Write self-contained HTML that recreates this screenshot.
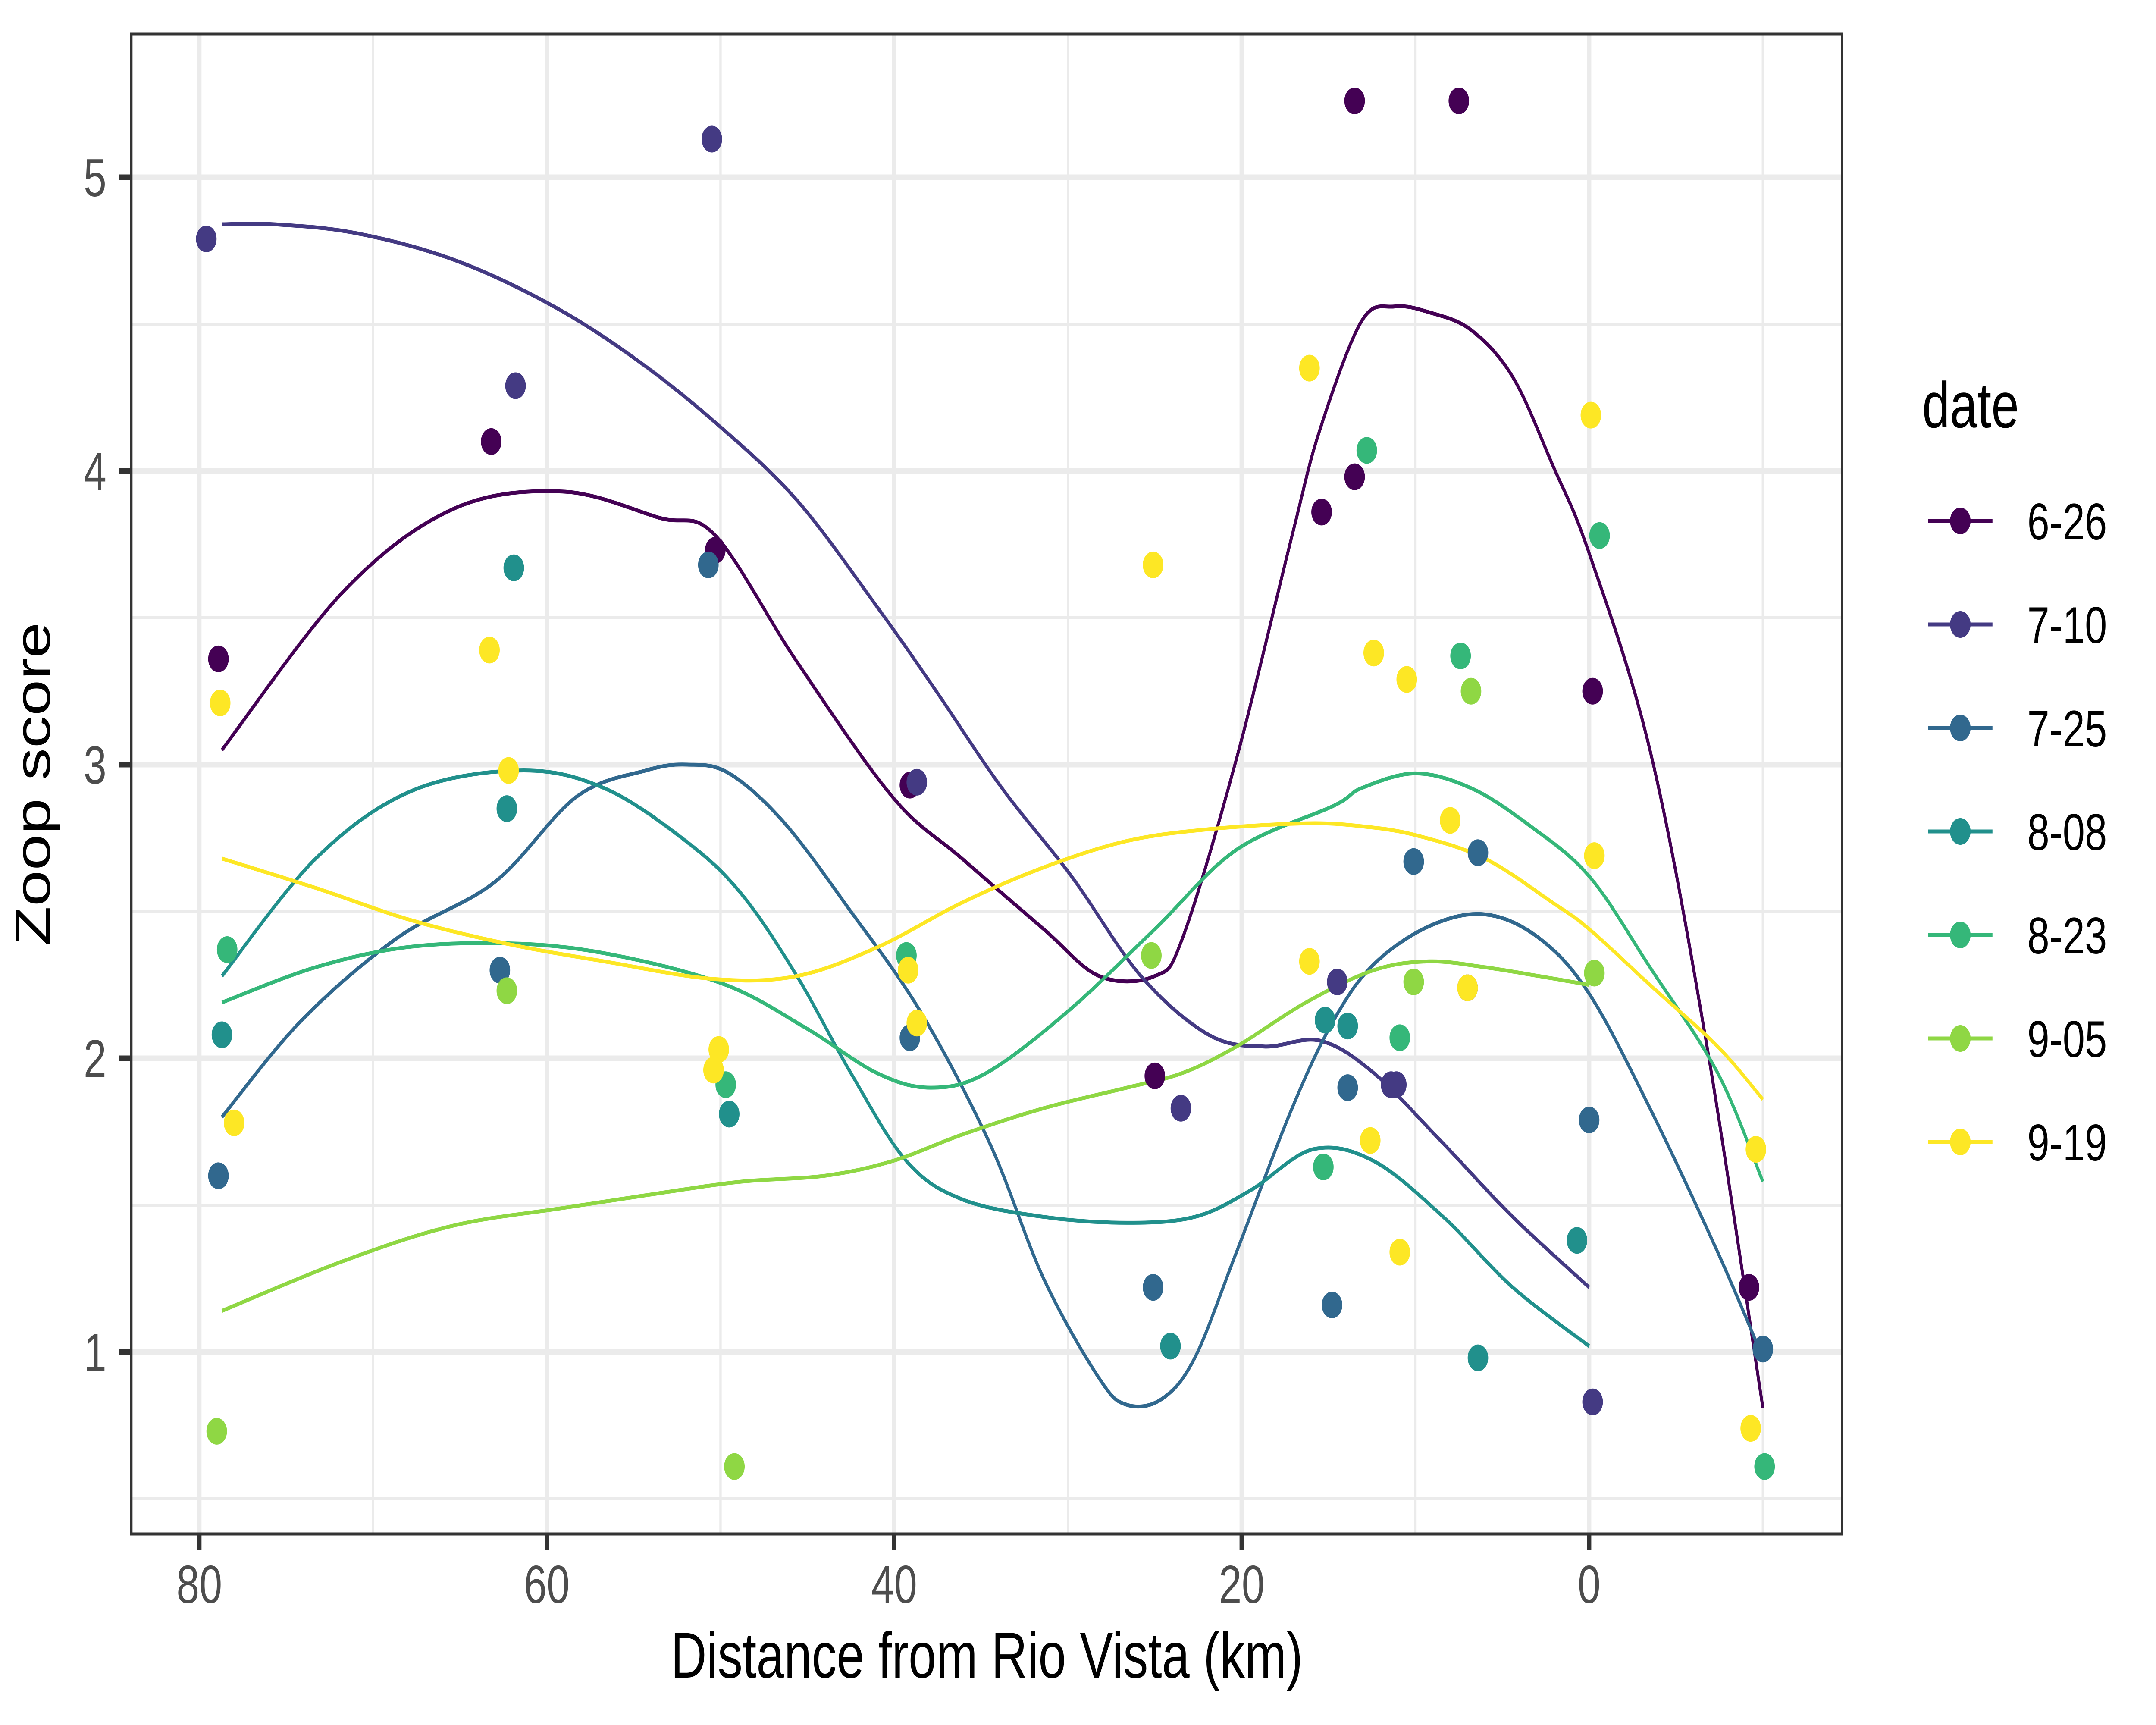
<!DOCTYPE html>
<html><head><meta charset="utf-8"><style>
html,body{margin:0;padding:0;background:#fff;width:100%;height:100%;overflow:hidden}
svg{display:block;position:absolute;left:0;top:0;width:100vw;height:100vh}
</style></head><body>
<svg id="chart" viewBox="0 0 6500 4000" preserveAspectRatio="none" xmlns="http://www.w3.org/2000/svg" font-family="Liberation Sans, Arial, sans-serif">
<rect width="6500" height="4000" fill="#fff"/>
<g id="grid"></g>
<g id="lines"></g>
<g id="points"></g>
<rect x="396" y="79" width="5158" height="3478" fill="none" stroke="#333" stroke-width="7"/>
<g id="axes"></g>
<text x="2975" y="3890" font-size="150" text-anchor="middle" fill="#000">Distance from Rio Vista (km)</text>
<text transform="translate(150,1818) rotate(-90)" font-size="150" text-anchor="middle" fill="#000">Zoop score</text>
<g id="legend">
<text x="5795" y="991" font-size="150" fill="#000">date</text>
</g>
</svg>
<script>
const seriesNames = ["6-26","7-10","7-25","8-08","8-23","9-05","9-19"];
const seriesColors = ["#440154","#443A83","#31688E","#21908C","#35B779","#8FD744","#FDE725"];
const xTicks = [80,60,40,20,0];
const xMinor = [70,50,30,10,-10];
const yTicks = [1,2,3,4,5];
const yMinor = [0.5,1.5,2.5,3.5,4.5];

const pts626x = [78.9,63.2,50.3,39.1,25.0,15.4,13.5,13.5,7.5,7.0,-0.2,-9.2];
const pts626y = [3.36,4.10,3.73,2.93,1.94,3.86,3.98,5.26,5.26,2.24,3.25,1.22];
const pts710x = [79.6,61.8,50.5,38.7,23.5,14.5,11.4,11.1,-0.2];
const pts710y = [4.79,4.29,5.13,2.94,1.83,2.26,1.91,1.91,0.83];
const pts725x = [78.9,62.7,50.7,39.1,25.1,14.8,13.9,10.1,6.4,0.0,-10.0];
const pts725y = [1.60,2.30,3.68,2.07,1.22,1.16,1.90,2.67,2.70,1.79,1.01];
const pts808x = [78.7,61.9,62.3,49.5,24.1,6.4,0.7,15.2,13.9];
const pts808y = [2.08,3.67,2.85,1.81,1.02,0.98,1.38,2.13,2.11];
const pts823x = [78.4,39.3,49.7,15.3,12.8,7.4,-0.6,-10.1,10.9];
const pts823y = [2.37,2.35,1.91,1.63,4.07,3.37,3.78,0.61,2.07];
const pts905x = [79.0,62.3,49.2,25.2,10.1,6.8,-0.3];
const pts905y = [0.73,2.23,0.61,2.35,2.26,3.25,2.29];
const pts919x = [78.8,78.0,63.3,62.2,50.1,50.4,39.2,38.7,25.1,16.1,16.1,12.4,10.5,12.6,10.9,8.0,7.0,-0.1,-0.3,-9.6,-9.3];
const pts919y = [3.21,1.78,3.39,2.98,2.03,1.96,2.30,2.12,3.68,4.35,2.33,3.38,3.29,1.72,1.34,2.81,2.24,4.19,2.69,1.69,0.74];

const fit626x = [78.7,71.7,65.4,59.1,53.5,50.3,45.6,40.1,36.1,31.4,28.2,25.0,23.4,20.3,17.1,15.5,13.1,11.2,9.2,6.8,4.4,2.1,0,-3.5,-6.7,-10];
const fit626y = [3.05,3.59,3.87,3.93,3.84,3.78,3.35,2.89,2.68,2.44,2.28,2.28,2.41,3.02,3.78,4.14,4.51,4.56,4.54,4.48,4.32,4.02,3.72,3.05,2.07,0.81];
const fit710x = [78.7,75.7,71,65.4,59.9,55.1,50.4,45.6,40.9,37.7,33.8,29.8,25.8,21.9,18.7,15.5,12.4,8.4,4.4,0];
const fit710y = [4.84,4.84,4.81,4.72,4.57,4.39,4.17,3.90,3.53,3.26,2.92,2.62,2.28,2.08,2.04,2.06,1.95,1.71,1.46,1.22];
const fit725x = [78.7,74.1,68.6,63.0,58.3,54.3,51.9,49.5,46.3,42.5,38.5,34.5,31.4,28.2,26.6,24.6,22.7,20.3,17.1,14.7,12.4,9.2,6.0,2.9,0,-3.5,-7.4,-10];
const fit725y = [1.80,2.13,2.41,2.60,2.89,2.98,3.00,2.97,2.80,2.50,2.16,1.71,1.25,0.91,0.82,0.84,0.98,1.34,1.83,2.13,2.32,2.45,2.49,2.41,2.22,1.83,1.34,0.98];
const fit808x = [78.7,73.3,67.8,61.5,56.7,52.0,48.8,45.6,42.5,39.3,36.1,31.4,26.6,22.7,19.5,15.9,12.4,8.4,4.4,0];
const fit808y = [2.28,2.68,2.91,2.98,2.92,2.74,2.56,2.28,1.95,1.65,1.52,1.46,1.44,1.46,1.55,1.69,1.65,1.46,1.22,1.02];
const fit823x = [78.7,73.3,67.8,61.5,56.0,49.7,45.0,41.0,37.9,34.7,30.0,25.0,20.3,14.7,13.1,10.0,6.8,3.6,0,-3.5,-7.4,-10];
const fit823y = [2.19,2.31,2.38,2.39,2.35,2.25,2.10,1.95,1.90,1.95,2.16,2.44,2.71,2.86,2.92,2.97,2.92,2.80,2.62,2.31,1.95,1.58];
const fit905x = [78.7,71.7,65.4,59.1,53.6,48.8,44.0,40.1,36.1,31.4,26.6,23.4,20.3,16.3,12.4,9.2,6.0,2.9,0];
const fit905y = [1.14,1.31,1.43,1.49,1.54,1.58,1.60,1.65,1.74,1.83,1.90,1.95,2.04,2.19,2.30,2.33,2.31,2.28,2.25];
const fit919x = [78.7,73.3,67.8,62.3,56.7,50.4,45.6,40.9,36.1,31.4,26.6,21.9,16.3,13.1,10.0,6.0,2.1,0,-3.5,-7.4,-10];
const fit919y = [2.68,2.58,2.47,2.39,2.33,2.27,2.28,2.38,2.53,2.65,2.74,2.78,2.80,2.79,2.76,2.68,2.53,2.44,2.25,2.04,1.86];

const ptsX = [pts626x,pts710x,pts725x,pts808x,pts823x,pts905x,pts919x];
const ptsY = [pts626y,pts710y,pts725y,pts808y,pts823y,pts905y,pts919y];
const fitX = [fit626x,fit710x,fit725x,fit808x,fit823x,fit905x,fit919x];
const fitY = [fit626y,fit710y,fit725y,fit808y,fit823y,fit905y,fit919y];

const NS = "http://www.w3.org/2000/svg";
const PL = 396, PR = 5554, PT = 79, PB = 3557;
function sx(v){ return 4791 + (0 - v) * 52.375; }
function sy(v){ return 3135 - (v - 1) * 681; }
function mk(tag, attrs, parent){
  const e = document.createElementNS(NS, tag);
  for (const k in attrs) e.setAttribute(k, attrs[k]);
  parent.appendChild(e);
  return e;
}
function smoothPath(P){
  let d = 'M' + P[0][0].toFixed(1) + ',' + P[0][1].toFixed(1);
  for (let i = 0; i < P.length - 1; i++){
    const p0 = P[Math.max(0, i-1)], p1 = P[i], p2 = P[i+1], p3 = P[Math.min(P.length-1, i+2)];
    const c1x = p1[0] + (p2[0]-p0[0])/6, c1y = p1[1] + (p2[1]-p0[1])/6;
    const c2x = p2[0] - (p3[0]-p1[0])/6, c2y = p2[1] - (p3[1]-p1[1])/6;
    d += ' C' + c1x.toFixed(1) + ',' + c1y.toFixed(1) + ' ' + c2x.toFixed(1) + ',' + c2y.toFixed(1) + ' ' + p2[0].toFixed(1) + ',' + p2[1].toFixed(1);
  }
  return d;
}
const grid = document.getElementById('grid');
const axes = document.getElementById('axes');
xMinor.forEach(v => {
  const l = mk('line', {x1:sx(v), x2:sx(v), y1:PT, y2:PB, stroke:'#EBEBEB', 'stroke-width':7}, grid);
  
  
});
yMinor.forEach(v => {
  const l = mk('line', {x1:PL, x2:PR, y1:sy(v), y2:sy(v), stroke:'#EBEBEB', 'stroke-width':7}, grid);
  
  
});
xTicks.forEach(v => {
  const l = mk('line', {x1:sx(v), x2:sx(v), y1:PT, y2:PB, stroke:'#EBEBEB', 'stroke-width':13}, grid);
  
  
  const t = mk('line', {x1:sx(v), x2:sx(v), y1:PB, y2:PB+38, stroke:'#333', 'stroke-width':13}, axes);
  
  
  const tx = mk('text', {x:sx(v), y:3717, 'font-size':124, 'text-anchor':'middle', fill:'#4D4D4D'}, axes);
  tx.textContent = String(v);
  
  
});
yTicks.forEach(v => {
  const l = mk('line', {x1:PL, x2:PR, y1:sy(v), y2:sy(v), stroke:'#EBEBEB', 'stroke-width':13}, grid);
  
  
  const t = mk('line', {x1:PL-38, x2:PL, y1:sy(v), y2:sy(v), stroke:'#333', 'stroke-width':13}, axes);
  
  
  const tx = mk('text', {x:321, y:sy(v)+44, 'font-size':124, 'text-anchor':'end', fill:'#4D4D4D'}, axes);
  tx.textContent = String(v);
  
  
});
const linesG = document.getElementById('lines');
const pointsG = document.getElementById('points');
const legend = document.getElementById('legend');
seriesNames.forEach((name, i) => {
  const col = seriesColors[i];
  const P = fitX[i].map((x, j) => [sx(x), sy(fitY[i][j])]);
  const p = mk('path', {d:smoothPath(P), fill:'none', stroke:col, 'stroke-width':9, 'stroke-linejoin':'round', 'stroke-linecap':'butt'}, linesG);
  
  
});
seriesNames.forEach((name, i) => {
  const col = seriesColors[i];
  ptsX[i].forEach((x, j) => {
    const c = mk('circle', {cx:sx(x), cy:sy(ptsY[i][j]), r:31, fill:col}, pointsG);
    
    
  });
  const ky = 1208 + i * 240;
  const ln = mk('line', {x1:5813, x2:6007, y1:ky, y2:ky, stroke:col, 'stroke-width':9}, legend);
  
  
  const kc = mk('circle', {cx:5910, cy:ky, r:31, fill:col}, legend);
  
  
  const kt = mk('text', {x:6112, y:ky+43, 'font-size':120, fill:'#000'}, legend);
  kt.textContent = name;
  
  
});
</script>
</body></html>
